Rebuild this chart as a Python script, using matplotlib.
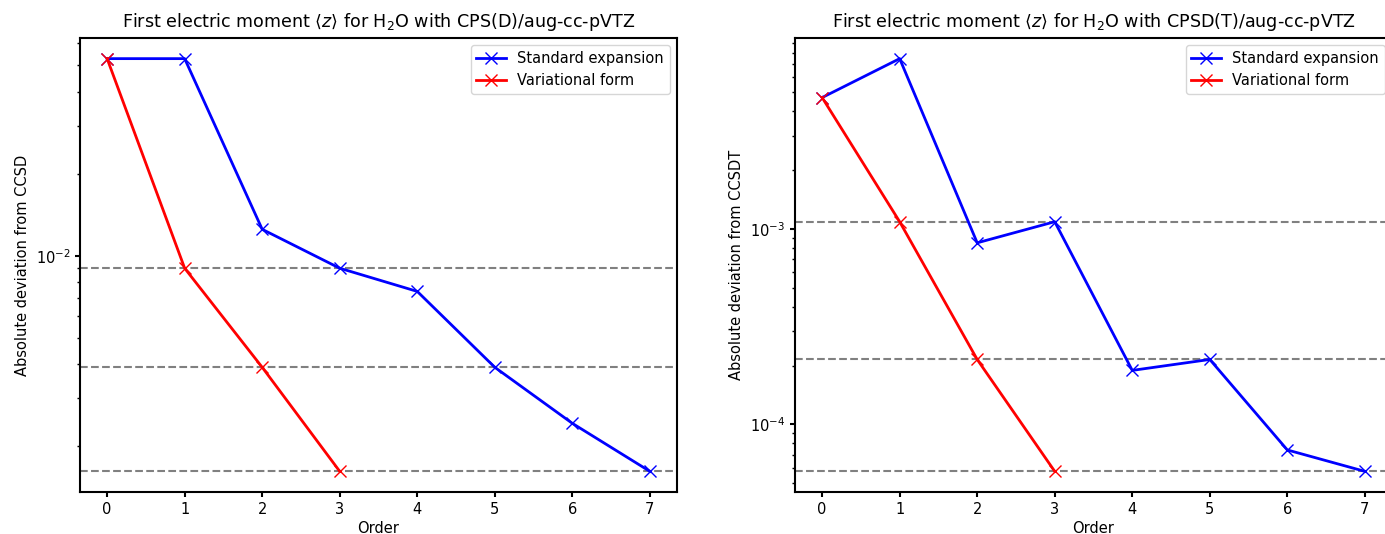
import matplotlib
matplotlib.use('Agg')
import matplotlib.pyplot as plt
import numpy as np

orders_std = [0, 1, 2, 3, 4, 5, 6, 7]
orders_var = [0, 1, 2, 3]

# CPS(D) vs CCSD
cpsd_std = [0.0528, 0.0528, 0.0125, 0.0090, 0.0074, 0.0039, 0.00243, 0.00162]
cpsd_var = [0.0528, 0.0090, 0.0039, 0.00162]

# CPSD(T) vs CCSDT
cpsdt_std = [4.71e-3, 7.45e-3, 8.5e-4, 1.09e-3, 1.89e-4, 2.15e-4, 7.4e-5, 5.75e-5]
cpsdt_var = [4.71e-3, 1.09e-3, 2.15e-4, 5.75e-5]

titles = [r'First electric moment $\langle z \rangle$ for H$_2$O with CPS(D)/aug-cc-pVTZ',
          r'First electric moment $\langle z \rangle$ for H$_2$O with CPSD(T)/aug-cc-pVTZ']
ylabels = ['Absolute deviation from CCSD', 'Absolute deviation from CCSDT']

plt.rcParams['font.size'] = 10.5

W, H = 1385, 534
fig = plt.figure(figsize=(W/100, H/100), dpi=100)
ax_left = fig.add_axes([80/W, (H-492)/H, 597/W, 454/H])
ax_right = fig.add_axes([795/W, (H-492)/H, 597/W, 454/H])

for ax, std, var, title, ylab in zip([ax_left, ax_right],
                                     [cpsd_std, cpsdt_std],
                                     [cpsd_var, cpsdt_var],
                                     titles, ylabels):
    ax.plot(orders_std, std, 'x-', color='blue', lw=2, ms=9, label='Standard expansion')
    ax.plot(orders_var, var, 'x-', color='red', lw=2, ms=9, label='Variational form')
    # dashed reference lines at the variational values
    for v in var[1:]:
        ax.axhline(v, color='grey', ls='--', lw=1.5, zorder=0)
    ax.set_yscale('log')
    ax.set_xlim(-0.35, 7.35)
    ax.set_xticks(orders_std)
    ax.set_title(title, fontsize=12.6, pad=8)
    ax.set_ylabel(ylab)
    ax.set_xlabel('Order', labelpad=3)
    ax.legend(loc='upper right')
    for s in ax.spines.values():
        s.set_linewidth(1.5)
    ax.tick_params(width=1.5)
    ax.tick_params(which='minor', width=1)

fig.savefig('out.png', dpi=100)
